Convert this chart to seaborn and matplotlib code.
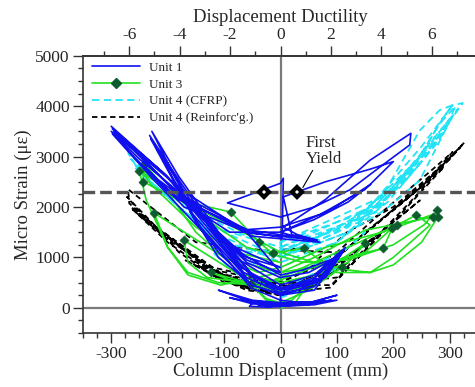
import numpy as np
import pandas as pd
import matplotlib
matplotlib.use("Agg")
import matplotlib.pyplot as plt
from matplotlib.lines import Line2D
import seaborn as sns

# ---- strain histories, one list per loading cycle ----
# column displacement in mm, strain in micro-strain

u1_disp = [
    [0, 40, 90, 60, 0, -50, -90, -40, 0],
    [0, 50, 100, 60, 0, -60, -110, -50, 0],
    [0, 50, 55, 20, -50, -55, -20, 0],
    [0, 60, 110, 80, 30, 0, -50, -110, -160, -110, -50, 0],
    [0, 60, 112, 70, 0, -60, -150, -230, -170, -100, -40, 0],
    [0, 60, 115, 75, 0, -70, -160, -228, -180, -110, -50, 0],
    [0, 55, 108, 70, 0, -65, -155, -232, -175, -105, -45, 0],
    [0, 60, 110, 60, 0, -80, -200, -300, -240, -150, -60, 0],
    [0, 50, 100, 40, 0, -90, -210, -295, -230, -140, -60, 0],
    [0, -90, -205, -298, -235, -145, -60, 0],
    [0, -60, -170, -300, -250, -170, -60, 0, 65, 30, 5, 80, 159, 231, 229, 176, 123, 60, 0],
    [0, -94, 0, 5, 3, -60, -171, -240, -200, -53, 65, 20, 5, 80, 159, 200, 150, 70, 0],
    [0, -60, -180, -230, -170, -50, 70, 30, 0, 90, 160, 120, 60, 0],
    [0, -90, -200, -298, -230, -120, -53, 0, 40, 100, 60, 0, -40, 0],
]
u1_strain = [
    [50, 60, 150, 100, 40, 80, 200, 90, 60],
    [60, 100, 250, 120, 80, 150, 350, 150, 100],
    [40, 60, 120, 100, 90, 30, 10, 40],
    [250, 350, 1100, 600, 350, 250, 450, 1100, 1900, 1000, 450, 280],
    [280, 420, 1150, 550, 300, 600, 1700, 3350, 2300, 1200, 500, 350],
    [350, 480, 1200, 600, 380, 800, 2000, 3500, 2600, 1500, 650, 400],
    [400, 520, 1120, 580, 360, 700, 1850, 3420, 2450, 1350, 600, 380],
    [380, 600, 1150, 650, 450, 1000, 2600, 3600, 2900, 1900, 900, 600],
    [600, 700, 1000, 750, 650, 1200, 2700, 3500, 2800, 1800, 1000, 800],
    [800, 1250, 2650, 3550, 2850, 1850, 950, 700],
    [700, 1500, 2300, 3500, 2950, 2200, 1550, 1450, 1340, 1450, 1600, 2150, 2930, 3460, 3230, 2790, 2340, 2000, 1800],
    [1800, 2080, 2470, 2570, 1400, 1500, 2000, 2800, 2300, 1480, 1340, 1450, 2200, 2500, 2750, 2900, 2350, 1850, 1600],
    [1600, 1550, 2150, 2650, 2150, 1420, 1300, 1400, 1500, 1950, 2450, 2100, 1750, 1500],
    [1500, 1500, 2300, 3450, 2600, 1300, 400, 150, 100, 150, 60, 30, 60, 20],
]

u3_disp = [
    [0, 25, 45, 20, 0, -25, -53, -25, 0],
    [0, 50, 109, 70, 0, -60, -123, -90, -40, 0],
    [0, 60, 150, 120, 60, 0, -80, -171, -164, -130, -60, 0],
    [0, 80, 182, 198, 150, 80, 0, -100, -224, -200, -164, -110, -40, 0],
    [0, 100, 206, 241, 265, 200, 159, 100, 41, -14, -38, -88, -164, -250, -238, -200, -164, -106, 0],
    [0, 60, 150, 271, 277, 279, 250, 200, 159, 120, 60, 0, -100, -244, -241, -200, -150, -100, -40, 0],
    [0, 80, 180, 270, 255, 200, 120, 40, -60, -150, -250, -230, -150, -80, 0],
]
u3_strain = [
    [0, 80, 410, 150, 60, 150, 480, 180, 100],
    [100, 350, 810, 500, 300, 500, 700, 550, 400, 350],
    [350, 600, 1280, 900, 650, 500, 700, 1340, 900, 600, 500, 550],
    [550, 900, 1180, 1580, 1100, 850, 700, 1000, 1880, 1200, 700, 500, 450, 600],
    [600, 1100, 1640, 1840, 1640, 1000, 700, 700, 1180, 1080, 1300, 1900, 2090, 2710, 2134, 1200, 650, 450, 700],
    [700, 1000, 1540, 1800, 1940, 1800, 1300, 850, 700, 750, 900, 1100, 1700, 2500, 2870, 2300, 1500, 1000, 700, 800],
    [800, 1200, 1500, 1850, 1650, 1250, 950, 900, 1200, 1900, 2780, 2450, 1600, 1100, 900],
]
# 1 = reading shown with a marker
u3_mark = [
    [0, 0, 1, 0, 0, 0, 1, 0, 0],
    [0, 0, 1, 0, 0, 0, 1, 0, 0, 0],
    [0, 0, 1, 0, 0, 0, 0, 1, 0, 0, 0, 0],
    [0, 0, 1, 1, 0, 0, 0, 0, 1, 0, 0, 0, 0, 0],
    [0, 0, 1, 1, 0, 0, 0, 0, 1, 1, 1, 1, 1, 1, 0, 0, 0, 0, 0],
    [0, 0, 0, 1, 1, 1, 0, 0, 0, 0, 0, 0, 0, 1, 1, 0, 0, 0, 0, 0],
    [0, 0, 0, 0, 0, 0, 0, 0, 0, 0, 0, 0, 0, 0, 0],
]

u4c_disp = [
    [0, 50, 100, 60, 0, -60, -120, -70, 0],
    [0, 80, 150, 110, 0, -100, -180, -120, 0],
    [0, 100, 200, 250, 190, 100, 0, -120, -230, -260, -200, -100, 0],
    [0, 100, 180, 260, 300, 290, 250, 190, 120, 0],
    [0, 120, 230, 290, 280, 220, 150, 0, -150, -270, -250, -150, 0],
    [0, 120, 200, 282, 315, 305, 260, 200, 140, 0],
    [0, -100, -200, -265, -240, -180, -100, 0],
    [0, 170, 247, 282, 310, 300, 240, 170, 0],
    [0, 180, 247, 282, 305, 290, 230, 175, 0],
    [0, 150, 250, 305, 323, 300, 247, 185, 120, 0],
]
u4c_strain = [
    [200, 400, 800, 500, 300, 500, 1100, 600, 350],
    [350, 800, 1500, 1100, 600, 1200, 2000, 1400, 800],
    [800, 1300, 2300, 2900, 2100, 1300, 900, 1500, 2600, 2800, 2200, 1200, 1000],
    [1000, 1500, 2100, 3100, 3700, 3500, 2900, 2200, 1500, 1000],
    [1000, 1600, 2800, 3500, 3300, 2500, 1800, 1100, 1900, 3070, 2700, 1700, 1200],
    [1100, 1700, 2400, 3500, 3950, 3800, 3100, 2400, 1700, 1150],
    [1000, 1500, 2300, 2950, 2600, 2000, 1300, 1000],
    [1200, 1900, 3000, 3650, 4000, 3750, 2900, 2050, 1200],
    [1300, 2200, 3520, 3920, 4020, 3800, 2700, 2000, 1300],
    [1000, 1900, 3200, 4020, 4060, 3700, 2530, 1940, 1500, 1000],
]

u4r_disp = [
    [0, 40, 80, 40, 0, -60, -120, -60, 0],
    [0, 60, 120, 70, 0, -80, -170, -120, -50, 0],
    [0, 88, 180, 120, 50, 0, -100, -220, -180, -100, 0],
    [0, 100, 247, 200, 120, 40, 0, -120, -265, -200, -120, -50, 0],
    [0, -100, -200, -262, -200, -110, 0, 90, 200, 290, 260, 180, 100, 0],
    [0, 120, 250, 305, 270, 180, 100, 0, 40, 0, -150, -270, -268, -210, -130, -60, 0],
    [0, -120, -230, -272, -220, -120, 0, 100, 230, 318, 290, 200, 100],
    [100, 150, 250, 326, 300, 200, 118, 60],
]
u4r_strain = [
    [250, 350, 600, 350, 250, 400, 650, 350, 250],
    [250, 450, 900, 550, 300, 450, 950, 650, 350, 300],
    [300, 400, 1500, 1000, 500, 400, 600, 1600, 1100, 500, 400],
    [400, 800, 2130, 1700, 1000, 550, 450, 700, 2000, 1400, 700, 400, 400],
    [400, 650, 1350, 1950, 1300, 600, 450, 450, 1700, 2800, 2500, 1750, 1000, 500],
    [500, 1200, 2400, 3090, 2750, 1900, 1100, 1150, 1180, 1100, 1300, 2350, 2070, 1500, 800, 450, 500],
    [500, 750, 1650, 2200, 1600, 800, 500, 600, 2100, 3180, 2850, 1950, 1000],
    [1000, 1500, 2400, 3280, 2950, 2000, 1500, 900],
]

yield_strain = 2300
yield_disp = [-30, 30]
mm_per_ductility = 44.7


def history(disp_cycles, strain_cycles, **extra):
    cols = {"disp": np.concatenate(disp_cycles), "strain": np.concatenate(strain_cycles)}
    for k, v in extra.items():
        cols[k] = np.concatenate(v)
    return pd.DataFrame(cols)


d1 = history(u1_disp, u1_strain)
d3 = history(u3_disp, u3_strain, mark=u3_mark)
d4c = history(u4c_disp, u4c_strain)
d4r = history(u4r_disp, u4r_strain)

sns.set_theme(style="ticks")
plt.rcParams["font.family"] = ["Liberation Serif", "DejaVu Serif"]
plt.rcParams["axes.unicode_minus"] = False

fig = plt.figure(figsize=(4.75, 3.87), dpi=100)
ax = fig.add_axes([83 / 475, 1 - 333 / 387, 395 / 475, (333 - 55.7) / 387])

blue = "#1010ee"
green = "#22e022"
dkgreen = "#0d5c2e"
cyan = "#22e4f4"
dash_c = (0, (4, 2.5))
dash_k = (0, (3, 2))

ax.axhline(0, color="#7a7a7a", lw=1.6, zorder=1)
ax.axvline(0, color="#7a7a7a", lw=1.6, zorder=1)

sns.lineplot(data=d4r, x="disp", y="strain", sort=False, estimator=None, ax=ax,
             color="black", lw=1.3, linestyle=dash_k, zorder=2)
sns.lineplot(data=d4c, x="disp", y="strain", sort=False, estimator=None, ax=ax,
             color=cyan, lw=1.3, linestyle=dash_c, zorder=2)
sns.lineplot(data=d3, x="disp", y="strain", sort=False, estimator=None, ax=ax,
             color=green, lw=1.2, zorder=3)
sns.scatterplot(data=d3[d3["mark"] == 1], x="disp", y="strain", ax=ax, marker="D",
                s=22, color=dkgreen, edgecolor=dkgreen, zorder=4)
sns.lineplot(data=d1, x="disp", y="strain", sort=False, estimator=None, ax=ax,
             color=blue, lw=1.2, zorder=5)

# first-yield reference line and markers
ax.axhline(yield_strain, color="#555555", lw=2.4, linestyle=(0, (3.5, 1.5)), zorder=6)
ax.plot(yield_disp, [yield_strain] * 2, linestyle="none", marker="D", ms=5,
        mfc="white", mec="black", mew=3, zorder=7)
ax.annotate("First\nYield", xy=(yield_disp[1], yield_strain), xytext=(45, 2790),
            fontsize=12, ha="left", va="bottom", linespacing=1.05,
            arrowprops=dict(arrowstyle="-", color="black", lw=0.8,
                            connectionstyle="angle,angleA=60,angleB=90,rad=0",
                            shrinkA=0, shrinkB=5), zorder=8)

ax.set_xlim(-350, 350)
ax.set_ylim(-500, 5000)
ax.set_xticks([-300, -200, -100, 0, 100, 200, 300])
ax.set_xticks(np.arange(-350, 351, 25), minor=True)
ax.set_yticks([0, 1000, 2000, 3000, 4000, 5000])
ax.set_yticks(np.arange(-500, 5001, 250), minor=True)
ax.tick_params(which="major", direction="out", length=7, width=1, labelsize=12.5,
               color="#333333", pad=2.5)
ax.tick_params(which="minor", direction="out", length=3.5, width=1, color="#333333")
ax.set_xlabel("Column Displacement (mm)", fontsize=13.5, labelpad=0)
ax.set_ylabel("Micro Strain (\u03bc\u03b5)", fontsize=13.5, labelpad=2)
for s in ["left", "bottom", "top"]:
    ax.spines[s].set_color("#333333")
    ax.spines[s].set_linewidth(1.2)
ax.spines["right"].set_visible(False)

sec = ax.secondary_xaxis("top", functions=(lambda x: x / mm_per_ductility,
                                           lambda m: m * mm_per_ductility))
sec.set_xticks([-6, -4, -2, 0, 2, 4, 6])
sec.set_xticks(np.arange(-7, 8, 1), minor=True)
sec.tick_params(which="major", direction="out", length=7, width=1, labelsize=12.5,
                color="#333333", pad=2.5)
sec.tick_params(which="minor", direction="out", length=3.5, width=1, color="#333333")
sec.set_xlabel("Displacement Ductility", fontsize=13.5, labelpad=3)
sec.spines["top"].set_color("#333333")

handles = [
    Line2D([], [], color=blue, lw=1.2),
    Line2D([], [], color=green, lw=1.2, marker="D", ms=5, mfc=dkgreen, mec=dkgreen),
    Line2D([], [], color=cyan, lw=1.3, linestyle=dash_c),
    Line2D([], [], color="black", lw=1.3, linestyle=dash_k),
]
labels = ["Unit 1", "Unit 3", "Unit 4 (CFRP)", "Unit 4 (Reinforc'g.)"]
ax.legend(handles, labels, loc="upper left", frameon=False, fontsize=9.5,
          handlelength=3.6, handletextpad=0.7, labelspacing=0.35,
          borderaxespad=0.3, bbox_to_anchor=(0.0, 1.012))

fig.text(0.005, 1.02, "(b)", fontsize=11, va="center")
fig.savefig("out.png", dpi=100)
